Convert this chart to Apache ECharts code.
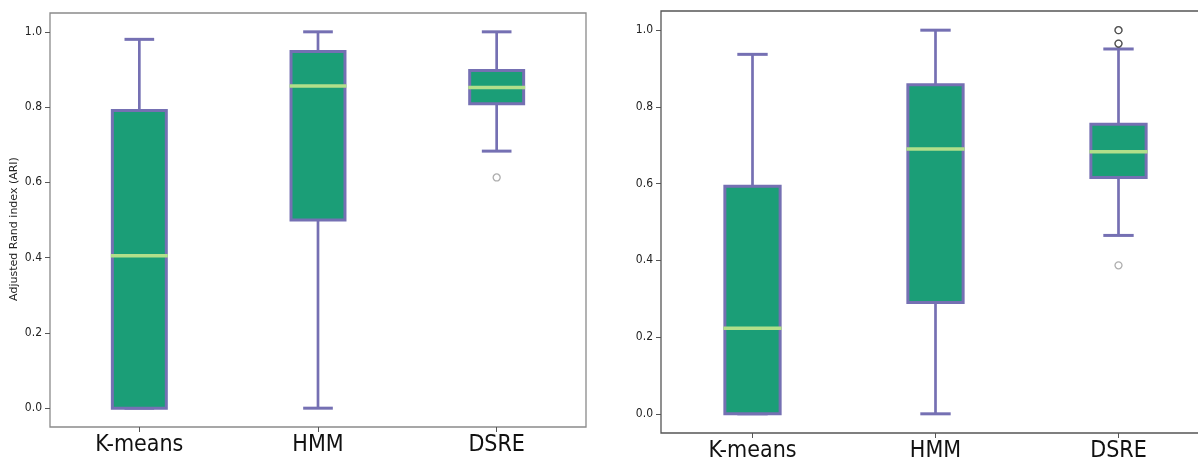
<!DOCTYPE html>
<html>
<head>
<meta charset="utf-8">
<script src="https://cdn.jsdelivr.net/npm/echarts@6/dist/echarts.min.js"></script>
<style>
  html, body { margin: 0; padding: 0; background: #fff; }
  #chart { width: 1198px; height: 463px; }
</style>
</head>
<body>
<div id="chart"></div>
<script>
// ---- data ----
const categories = ['K-means', 'HMM', 'DSRE'];
const yTickValues = [0.0, 0.2, 0.4, 0.6, 0.8, 1.0];
const yAxisTitle = 'Adjusted Rand index (ARI)';

// left panel
const leftWhiskerLow  = [0.000, 0.000, 0.683];
const leftQ1          = [0.000, 0.500, 0.809];
const leftMedian      = [0.405, 0.856, 0.852];
const leftQ3          = [0.791, 0.948, 0.897];
const leftWhiskerHigh = [0.980, 1.000, 1.000];
const leftOutlierCats = ['DSRE'];
const leftOutlierVals = [0.613];

// right panel
const rightWhiskerLow  = [0.000, 0.000, 0.465];
const rightQ1          = [0.000, 0.290, 0.616];
const rightMedian      = [0.223, 0.690, 0.683];
const rightQ3          = [0.593, 0.858, 0.755];
const rightWhiskerHigh = [0.937, 1.000, 0.951];
const rightOutlierCats = ['DSRE', 'DSRE', 'DSRE', 'DSRE', 'DSRE', 'DSRE', 'DSRE'];
const rightOutlierVals = [1.000, 1.000, 1.000, 0.965, 0.965, 0.965, 0.387];

// ---- styling ----
const PURPLE = '#7570b3';
const TEAL = '#1b9e77';
const MEDIAN = '#b2df8a';

function boxData(low, q1, med, q3, high) {
  return categories.map((c, i) => [i, low[i], q1[i], med[i], q3[i], high[i]]);
}
function outlierData(cats, vals) {
  return cats.map((c, i) => [c, vals[i]]);
}

function renderBox(params, api) {
  const i = api.value(0);
  const pLow = api.coord([i, api.value(1)]);
  const pQ1 = api.coord([i, api.value(2)]);
  const pMed = api.coord([i, api.value(3)]);
  const pQ3 = api.coord([i, api.value(4)]);
  const pHigh = api.coord([i, api.value(5)]);
  const band = api.size([1, 0])[0];
  const half = band * 0.151;
  const capHalf = band * 0.083;
  const cx = pLow[0];
  const children = [];
  children.push({ type: 'line', shape: { x1: cx, y1: pQ3[1], x2: cx, y2: pHigh[1] }, style: { stroke: PURPLE, lineWidth: 2.7 } });
  children.push({ type: 'line', shape: { x1: cx, y1: pQ1[1], x2: cx, y2: pLow[1] }, style: { stroke: PURPLE, lineWidth: 2.7 } });
  children.push({ type: 'line', shape: { x1: cx - capHalf, y1: pHigh[1], x2: cx + capHalf, y2: pHigh[1] }, style: { stroke: PURPLE, lineWidth: 3 } });
  children.push({ type: 'line', shape: { x1: cx - capHalf, y1: pLow[1], x2: cx + capHalf, y2: pLow[1] }, style: { stroke: PURPLE, lineWidth: 3 } });
  children.push({ type: 'rect', shape: { x: cx - half, y: pQ3[1], width: 2 * half, height: pQ1[1] - pQ3[1] }, style: { fill: TEAL, stroke: PURPLE, lineWidth: 3 } });
  children.push({ type: 'line', shape: { x1: cx - half - 1.5, y1: pMed[1], x2: cx + half + 1.5, y2: pMed[1] }, style: { stroke: MEDIAN, lineWidth: 3.5 } });
  return { type: 'group', children: children };
}

function makeXAxis(gridIndex) {
  return {
    type: 'category', gridIndex: gridIndex, data: categories, boundaryGap: true, position: 'bottom',
    axisLine: { show: false, onZero: false },
    axisTick: { show: true, alignWithLabel: true, length: 5, lineStyle: { color: '#555', width: 1 } },
    axisLabel: { interval: 0, margin: 7, fontFamily: 'DejaVu Sans Condensed, DejaVu Sans', fontSize: 23, color: '#111' },
    splitLine: { show: false }
  };
}
function makeYAxis(gridIndex, withName) {
  const ax = {
    type: 'value', gridIndex: gridIndex, min: -0.05, max: 1.05, position: 'left',
    axisLine: { show: false, onZero: false },
    axisTick: { show: true, length: 5, customValues: yTickValues, lineStyle: { color: '#555', width: 1 } },
    axisLabel: { customValues: yTickValues, margin: 8, fontFamily: 'DejaVu Sans Condensed, DejaVu Sans', fontSize: 12, color: '#222', formatter: v => v.toFixed(1) },
    splitLine: { show: false }
  };
  if (withName) {
    ax.name = yAxisTitle;
    ax.nameLocation = 'middle';
    ax.nameGap = 30;
    ax.nameTextStyle = { fontFamily: 'DejaVu Sans', fontSize: 11, color: '#222', padding: [0, 18, 0, 0] };
  }
  return ax;
}

const chart = echarts.init(document.getElementById('chart'), null, { renderer: 'canvas' });
chart.setOption({
  animation: false,
  backgroundColor: '#fff',
  grid: [
    { left: 50, top: 13, width: 536, height: 414, outerBoundsMode: 'none', containLabel: false, show: true, borderColor: '#8a8a8a', borderWidth: 1.3, backgroundColor: 'transparent' },
    { left: 661, top: 11, width: 549, height: 422, outerBoundsMode: 'none', containLabel: false, show: true, borderColor: '#555', borderWidth: 1.3, backgroundColor: 'transparent' }
  ],
  xAxis: [makeXAxis(0), makeXAxis(1)],
  yAxis: [makeYAxis(0, true), makeYAxis(1, false)],
  series: [
    { type: 'custom', xAxisIndex: 0, yAxisIndex: 0, renderItem: renderBox, encode: { x: 0, y: [1, 2, 3, 4, 5] },
      data: boxData(leftWhiskerLow, leftQ1, leftMedian, leftQ3, leftWhiskerHigh) },
    { type: 'custom', xAxisIndex: 1, yAxisIndex: 1, renderItem: renderBox, encode: { x: 0, y: [1, 2, 3, 4, 5] },
      data: boxData(rightWhiskerLow, rightQ1, rightMedian, rightQ3, rightWhiskerHigh) },
    { type: 'scatter', xAxisIndex: 0, yAxisIndex: 0, symbol: 'circle', symbolSize: 7,
      itemStyle: { color: 'rgba(0,0,0,0)', borderColor: 'rgba(0,0,0,0.4)', borderWidth: 1.3 },
      data: outlierData(leftOutlierCats, leftOutlierVals) },
    { type: 'scatter', xAxisIndex: 1, yAxisIndex: 1, symbol: 'circle', symbolSize: 7,
      itemStyle: { color: 'rgba(0,0,0,0)', borderColor: 'rgba(0,0,0,0.4)', borderWidth: 1.3 },
      data: outlierData(rightOutlierCats, rightOutlierVals) }
  ]
});
</script>
</body>
</html>
